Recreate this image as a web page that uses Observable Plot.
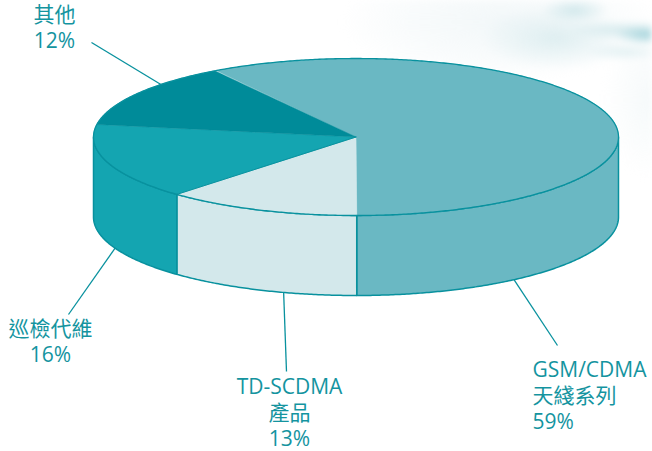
<!DOCTYPE html>
<html>
<head>
<meta charset="utf-8">
<script src="https://cdn.jsdelivr.net/npm/d3@7"></script>
<script src="https://cdn.jsdelivr.net/npm/@observablehq/plot@0.6"></script>
<style>
html,body{margin:0;padding:0;background:#fff;}
#wrap{position:relative;width:652px;height:451px;overflow:hidden;}
#wisp{position:absolute;inset:0;filter:blur(3px);background:
 radial-gradient(ellipse 30px 10px at 645px 35px, rgba(150,205,214,.8), transparent),
 radial-gradient(ellipse 40px 9px at 625px 52px, rgba(195,225,229,.45), transparent),
 radial-gradient(ellipse 34px 12px at 575px 10px, rgba(185,220,225,.6), transparent),
 radial-gradient(ellipse 60px 10px at 628px 30px, rgba(175,215,221,.5), transparent),
 radial-gradient(ellipse 75px 32px at 555px 38px, rgba(212,233,236,.7), transparent),
 radial-gradient(ellipse 160px 60px at 500px 22px, rgba(238,245,247,.75) 0%, rgba(238,245,247,.35) 60%, transparent 100%),
 radial-gradient(ellipse 50px 80px at 652px 100px, rgba(243,248,249,.8), transparent);}
#chart{position:absolute;inset:0;}
</style>
</head>
<body>
<div id="wrap"><div id="wisp"></div><div id="chart"></div></div>
<script>
// Data
const categories = ["GSM/CDMA\n天綫系列", "TD-SCDMA\n產品", "巡檢代維", "其他"];
const labelledPercent = [59, 13, 16, 12];      // printed percentages
const drawnShare = [58.9, 12.0, 15.6, 13.4];   // share of the circle each slice actually occupies
const sliceColors = ["#6ab8c3", "#d3e8eb", "#14a5b1", "#008b99"];

// Layout
const cx = 355.5, cy = 136.5, rx = 262.5, ry = 78.5, depth = 80, startAngle = -32.2;
const ink = "#08919e", textInk = "#14949f";
const leaderAngle = [143, 196, 246.6, 312];
const leaderOnWall = [true, true, true, false];
const leaderEnd = [[557, 345], [286, 371], [68, 314], [91, 42]];
const labelPos = [[532, 394], [289, 411], [50, 340], [54, 26]];
const labelAnchor = ["start", "middle", "middle", "middle"];

const pt = (deg, drop = 0) => {
  const t = deg * Math.PI / 180;
  return {x: cx + rx * Math.sin(t), y: cy - ry * Math.cos(t) + drop};
};
const arc = (a0, a1, drop = 0) => {
  const n = Math.max(2, Math.ceil(Math.abs(a1 - a0) * 2));
  return d3.range(n + 1).map(i => pt(a0 + (a1 - a0) * i / n, drop));
};

let acc = startAngle;
const slices = drawnShare.map((s, i) => {
  const a0 = acc, a1 = acc + s * 3.6;
  acc = a1;
  return {a0, a1, color: sliceColors[i]};
});

const marks = [];
// walls (only the front half of the rim shows)
slices.forEach(s => {
  const a = Math.max(s.a0, 90), b = Math.min(s.a1, 270);
  if (b <= a) return;
  const poly = [...arc(a, b), ...arc(b, a, depth)];
  poly.push(poly[0]);
  marks.push(Plot.line(poly, {x: "x", y: "y", fill: s.color, stroke: ink, strokeWidth: 1.5, curve: "linear"}));
});
// top faces
slices.forEach(s => {
  const poly = [{x: cx, y: cy}, ...arc(s.a0, s.a1), {x: cx, y: cy}];
  marks.push(Plot.line(poly, {x: "x", y: "y", fill: s.color, stroke: s.color, strokeWidth: 0.5, curve: "linear"}));
});
// outline of the top face and the spoke at the front of the pale slice
marks.push(Plot.line(arc(0, 360), {x: "x", y: "y", stroke: ink, strokeWidth: 1.3, curve: "linear"}));
marks.push(Plot.line([{x: cx, y: cy}, pt(slices[2].a0)], {x: "x", y: "y", stroke: ink, strokeWidth: 1}));

// leader lines
const leaders = leaderAngle.map((a, i) => {
  const p = pt(a, leaderOnWall[i] ? depth : 0);
  return {x1: p.x, y1: p.y, x2: leaderEnd[i][0], y2: leaderEnd[i][1]};
});
marks.push(Plot.link(leaders, {x1: "x1", y1: "y1", x2: "x2", y2: "y2", stroke: ink, strokeWidth: 1.3}));

// labels
const labelRows = categories.map((c, i) => ({
  text: `${c}\n${labelledPercent[i]}%`, x: labelPos[i][0], y: labelPos[i][1], anchor: labelAnchor[i]
}));
["start", "middle"].forEach(anchor => {
  marks.push(Plot.text(labelRows.filter(d => d.anchor === anchor), {
    x: "x", y: "y", text: "text", textAnchor: anchor, lineAnchor: "middle",
    fill: textInk, fontSize: 21, lineHeight: 1.24, fontWeight: 400,
    fontFamily: '"Open Sans","Noto Sans CJK TC",sans-serif'
  }));
});

const chart = Plot.plot({
  width: 652, height: 451,
  margin: 0,
  x: {type: "identity", axis: null},
  y: {type: "identity", axis: null},
  style: {background: "transparent", overflow: "visible"},
  marks
});
document.getElementById("chart").append(chart);
</script>
</body>
</html>
